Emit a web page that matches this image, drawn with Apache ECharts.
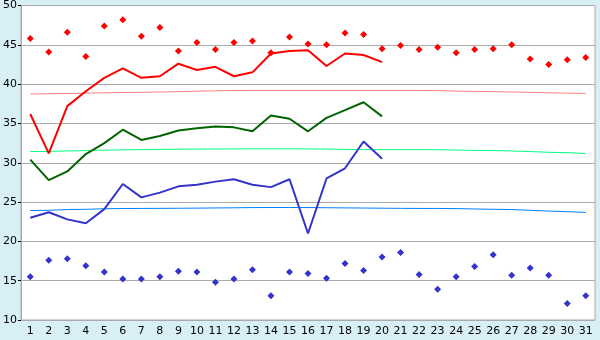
<!DOCTYPE html>
<html>
<head>
<meta charset="utf-8">
<script src="https://cdn.jsdelivr.net/npm/echarts@6/dist/echarts.min.js"></script>
<style>
  html, body { margin: 0; padding: 0; background: #d9eff6; }
  #chart { width: 600px; height: 340px; }
</style>
</head>
<body>
<div id="chart"></div>
<script>
// days of the month
var days = []
for (var d = 1; d <= 31; d++) days.push(String(d))

// record highs (red diamonds)
var maxPoints = [45.8, 44.1, 46.6, 43.5, 47.4, 48.2, 46.1, 47.2, 44.2, 45.3,
  44.4, 45.3, 45.5, 44.0, 46.0, 45.1, 45.0, 46.5, 46.3, 44.5,
  44.9, 44.4, 44.7, 44.0, 44.4, 44.5, 45.0, 43.2, 42.5, 43.1, 43.4]
// record lows (blue diamonds)
var minPoints = [15.5, 17.6, 17.8, 16.9, 16.1, 15.2, 15.2, 15.5, 16.2, 16.1,
  14.8, 15.2, 16.4, 13.1, 16.1, 15.9, 15.3, 17.2, 16.3, 18.0,
  18.6, 15.8, 13.9, 15.5, 16.8, 18.3, 15.7, 16.6, 15.7, 12.1, 13.1]

// this month so far
var highs = [36.2, 31.2, 37.2, 39.1, 40.8, 42.0, 40.8, 41.0, 42.6, 41.8,
  42.2, 41.0, 41.5, 43.9, 44.2, 44.3, 42.3, 43.9, 43.7, 42.8]
var means = [30.4, 27.8, 28.9, 31.1, 32.5, 34.2, 32.9, 33.4, 34.1, 34.4,
  34.6, 34.5, 34.0, 36.0, 35.6, 34.0, 35.7, 36.7, 37.7, 35.9]
var lows = [23.0, 23.7, 22.8, 22.3, 24.1, 27.3, 25.6, 26.2, 27.0, 27.2,
  27.6, 27.9, 27.2, 26.9, 27.9, 21.0, 28.0, 29.3, 32.7, 30.5]

// normals
var normHigh = [38.75, 38.77, 38.8, 38.85, 38.9, 38.93, 38.96, 39.0, 39.05, 39.1,
  39.15, 39.18, 39.2, 39.2, 39.2, 39.2, 39.2, 39.2, 39.2, 39.2,
  39.2, 39.2, 39.18, 39.1, 39.08, 39.05, 39.0, 38.95, 38.9, 38.85, 38.82]
var normMean = [31.42, 31.44, 31.5, 31.55, 31.6, 31.64, 31.67, 31.7, 31.72, 31.74,
  31.75, 31.76, 31.77, 31.77, 31.77, 31.76, 31.74, 31.7, 31.68, 31.67,
  31.67, 31.67, 31.66, 31.62, 31.56, 31.55, 31.5, 31.42, 31.33, 31.28, 31.17]
var normLow = [23.92, 23.95, 24.05, 24.08, 24.15, 24.18, 24.19, 24.2, 24.21, 24.23,
  24.25, 24.27, 24.3, 24.31, 24.31, 24.3, 24.28, 24.26, 24.24, 24.22,
  24.2, 24.19, 24.19, 24.17, 24.12, 24.08, 24.05, 23.95, 23.85, 23.78, 23.68]

var chart = echarts.init(document.getElementById('chart'))

function line(data, color, width) {
  return {
    type: 'line',
    data: data,
    symbol: 'none',
    silent: true,
    lineStyle: { color: color, width: width },
    itemStyle: { color: color },
  }
}
function dots(data, color) {
  return {
    type: 'scatter',
    data: data,
    symbol: 'diamond',
    symbolSize: 7,
    itemStyle: { color: color, opacity: 1 },
  }
}

chart.setOption({
  backgroundColor: '#d9eff6',
  animation: false,
  grid: {
    left: 20.5, right: 5, top: 5, bottom: 20,
    show: true,
    backgroundColor: '#ffffff',
    borderColor: '#aaaaaa',
    borderWidth: 1,
  },
  xAxis: {
    type: 'category',
    data: days,
    boundaryGap: true,
    axisLine: { lineStyle: { color: '#aaaaaa' } },
    axisTick: { alignWithLabel: true, length: 5, lineStyle: { color: '#000' } },
    axisLabel: { interval: 0, color: '#000', fontFamily: 'DejaVu Sans', fontSize: 11, margin: 6 },
  },
  yAxis: {
    type: 'value',
    min: 10, max: 50, interval: 5,
    axisLine: { show: true, lineStyle: { color: '#aaaaaa' } },
    axisTick: { show: true, length: 3, lineStyle: { color: '#000' } },
    axisLabel: { color: '#000', fontFamily: 'DejaVu Sans', fontSize: 11, margin: 4 },
    splitLine: { lineStyle: { color: '#aaaaaa' } },
  },
  series: [
    line(normHigh, '#ff8080', 1),
    line(normMean, '#00ff80', 1),
    line(normLow, '#0080ff', 1),
    line(highs, '#ff0000', 2),
    line(means, '#006400', 2),
    line(lows, '#3333cc', 2),
    dots(maxPoints, '#ff0000'),
    dots(minPoints, '#3333cc'),
  ],
})
</script>
</body>
</html>
